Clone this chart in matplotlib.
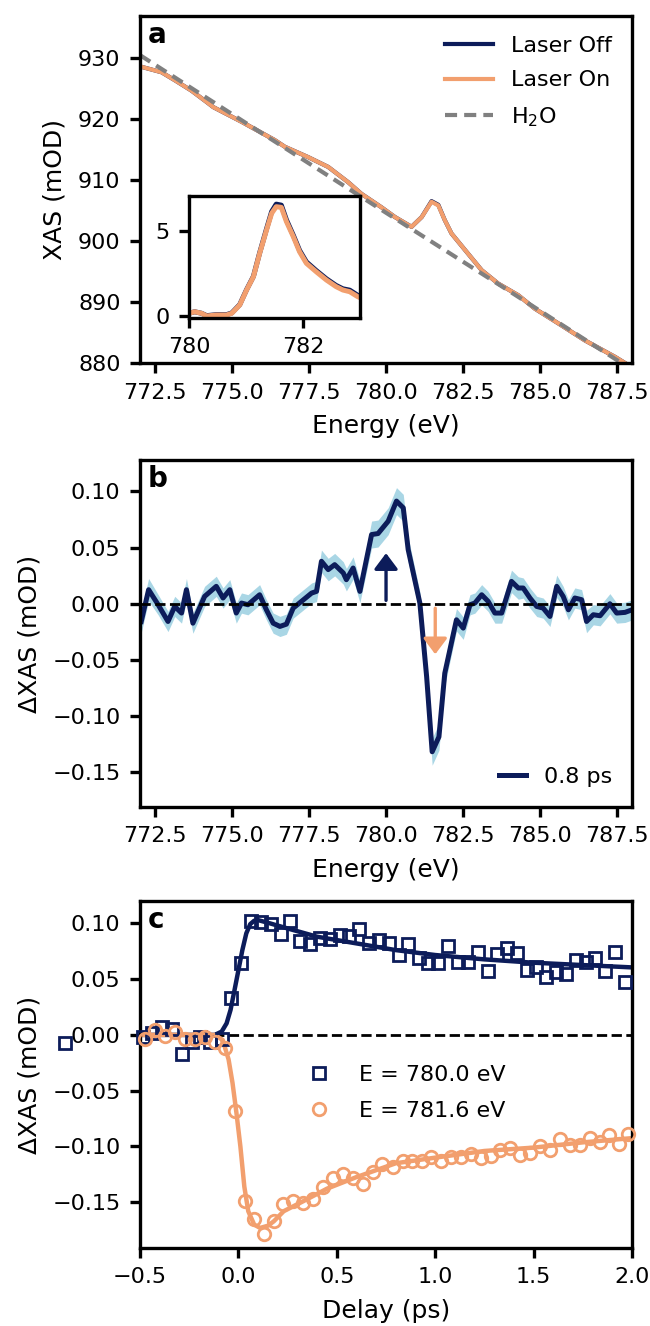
import numpy as np
import matplotlib.pyplot as plt

plt.rcParams['font.size'] = 8
plt.rcParams['axes.labelsize'] = 9
plt.rcParams['axes.linewidth'] = 1.2
plt.rcParams['xtick.major.width'] = 1.2
plt.rcParams['ytick.major.width'] = 1.2

navy = '#0c1c5a'
orange = '#f29f6e'
shade = '#a9d6e5'

# panel a: static XAS
energy_a = [772.04, 772.70, 773.13, 773.67, 774.20, 774.38, 775.30, 776.38, 776.71,
            777.47, 778.12, 778.77, 779.20, 779.85, 780.29, 780.83, 781.16, 781.48,
            781.70, 781.91, 782.13, 782.57, 783.11, 783.65, 784.30, 784.84, 785.60,
            786.47, 787.45, 788.0]
xas_off = [928.5, 927.6, 926.3, 924.6, 922.6, 921.9, 919.5, 916.5, 915.4,
           913.7, 912.1, 909.6, 907.7, 905.5, 903.9, 902.3, 903.9, 906.5,
           905.9, 903.4, 901.2, 898.5, 895.2, 893.0, 891.1, 888.9, 886.5,
           883.7, 881.0, 879.3]
xas_on = [928.5, 927.6, 926.3, 924.6, 922.6, 921.9, 919.5, 916.5, 915.4,
          913.7, 912.1, 909.6, 907.7, 905.5, 903.9, 902.3, 903.9, 906.4,
          905.8, 903.4, 901.2, 898.5, 895.2, 893.0, 891.1, 888.9, 886.5,
          883.7, 881.0, 879.3]
energy_h2o = [772.0, 776.0, 780.0, 784.0, 788.0]
xas_h2o = [930.4, 917.5, 904.6, 891.8, 878.9]

# inset: background subtracted
energy_in = [780.0, 780.10, 780.22, 780.31, 780.48, 780.66, 780.75, 780.89, 781.01,
             781.13, 781.24, 781.36, 781.45, 781.53, 781.62, 781.71, 781.83, 781.94,
             782.06, 782.23, 782.41, 782.58, 782.70, 782.82, 782.96, 783.0]
inset_off = [0.16, 0.25, 0.16, 0.02, 0.08, 0.08, 0.18, 0.67, 1.55,
             2.33, 3.72, 5.12, 6.14, 6.58, 6.52, 5.65, 4.75, 3.86,
             3.18, 2.68, 2.19, 1.80, 1.60, 1.52, 1.22, 1.15]
inset_on = [0.16, 0.25, 0.16, 0.0, 0.06, 0.06, 0.16, 0.65, 1.53,
            2.31, 3.69, 5.06, 6.04, 6.43, 6.39, 5.55, 4.67, 3.78,
            3.10, 2.61, 2.12, 1.73, 1.53, 1.43, 1.14, 1.08]

# panel b: transient at 0.8 ps
energy_b = [772.04, 772.28, 772.59, 772.91, 773.13, 773.35, 773.51, 773.72, 774.10,
            774.48, 774.70, 774.92, 775.13, 775.30, 775.51, 775.89, 776.11, 776.33,
            776.55, 776.76, 776.98, 777.25, 777.58, 777.74, 777.90, 778.12, 778.33,
            778.61, 778.71, 778.93, 779.15, 779.53, 779.74, 780.07, 780.34, 780.56,
            780.72, 781.10, 781.32, 781.50, 781.72, 781.91, 782.29, 782.51, 782.73,
            782.89, 783.11, 783.32, 783.54, 783.76, 784.08, 784.30, 784.46, 784.68,
            784.90, 785.11, 785.33, 785.55, 785.76, 785.93, 786.14, 786.36, 786.52,
            786.74, 786.96, 787.28, 787.50, 787.77, 788.0]
dxas_b = [-0.0158, 0.0125, -0.0009, -0.0158, -0.0024, -0.0083, 0.0125, -0.0173, 0.0065,
          0.0155, 0.0051, 0.0125, -0.0083, 0.0006, -0.0009, 0.0080, -0.0054, -0.0173,
          -0.0202, -0.0182, -0.0039, 0.0021, 0.0095, 0.0110, 0.0378, 0.0304, 0.0348,
          0.0274, 0.0214, 0.0318, 0.0110, 0.0616, 0.0625, 0.0735, 0.0914, 0.0854,
          0.0482, 0.0006, -0.0649, -0.1318, -0.1185, -0.0619, -0.0143, -0.0217, -0.0009,
          0.0006, 0.0080, 0.0021, -0.0083, -0.0083, 0.0199, 0.0140, 0.0140, 0.0051,
          -0.0024, -0.0039, -0.0113, 0.0155, 0.0065, -0.0054, 0.0051, 0.0036, -0.0158,
          -0.0098, -0.0107, 0.0000, -0.0083, -0.0077, -0.0054]
err_b = [0.010, 0.010, 0.009, 0.009, 0.009, 0.009, 0.010, 0.009, 0.009,
         0.009, 0.009, 0.009, 0.009, 0.009, 0.009, 0.009, 0.009, 0.009,
         0.009, 0.009, 0.009, 0.009, 0.009, 0.009, 0.010, 0.010, 0.010,
         0.010, 0.010, 0.010, 0.010, 0.012, 0.012, 0.012, 0.012, 0.012,
         0.011, 0.010, 0.010, 0.012, 0.012, 0.011, 0.010, 0.010, 0.009,
         0.009, 0.009, 0.009, 0.009, 0.009, 0.010, 0.010, 0.009, 0.009,
         0.009, 0.009, 0.009, 0.010, 0.009, 0.009, 0.009, 0.009, 0.010,
         0.009, 0.009, 0.009, 0.009, 0.009, 0.009]

# panel c: kinetics
delay_sq = [-0.881, -0.483, -0.441, -0.390, -0.339, -0.288, -0.237, -0.195, -0.144, -0.085,
            -0.039, 0.012, 0.064, 0.115, 0.164, 0.215, 0.263, 0.314, 0.364, 0.415,
            0.463, 0.514, 0.564, 0.614, 0.664, 0.715, 0.766, 0.814, 0.864, 0.915,
            0.963, 1.014, 1.063, 1.115, 1.166, 1.215, 1.266, 1.314, 1.364, 1.415,
            1.466, 1.514, 1.564, 1.615, 1.666, 1.715, 1.766, 1.814, 1.864, 1.915, 1.966]
dxas_sq = [-0.0072, -0.0015, 0.0015, 0.0075, 0.0050, -0.0173, -0.0060, -0.0015, -0.0060, -0.0040,
           0.0334, 0.0641, 0.1023, 0.1014, 0.0990, 0.0904, 0.1023, 0.0844, 0.0814, 0.0871,
           0.0856, 0.0895, 0.0886, 0.0945, 0.0826, 0.0850, 0.0820, 0.0716, 0.0814, 0.0692,
           0.0647, 0.0647, 0.0796, 0.0650, 0.0656, 0.0746, 0.0573, 0.0725, 0.0775, 0.0737,
           0.0582, 0.0611, 0.0516, 0.0567, 0.0546, 0.0671, 0.0650, 0.0686, 0.0576, 0.0746, 0.0477]
delay_ci = [-0.475, -0.424, -0.373, -0.322, -0.271, -0.220, -0.169, -0.119, -0.068, -0.017,
            0.031, 0.081, 0.130, 0.181, 0.229, 0.279, 0.330, 0.381, 0.428, 0.479,
            0.530, 0.581, 0.632, 0.683, 0.732, 0.783, 0.834, 0.881, 0.932, 0.980,
            1.031, 1.081, 1.131, 1.181, 1.232, 1.283, 1.331, 1.381, 1.432, 1.483,
            1.531, 1.581, 1.632, 1.683, 1.734, 1.785, 1.836, 1.883, 1.934, 1.978]
dxas_ci = [-0.0040, 0.0040, -0.0010, 0.0024, -0.0040, -0.0040, -0.0015, -0.0060, -0.0120, -0.0686,
           -0.1485, -0.1650, -0.1780, -0.1664, -0.1515, -0.1490, -0.1506, -0.1467, -0.1366, -0.1282,
           -0.1246, -0.1282, -0.1336, -0.1229, -0.1157, -0.1187, -0.1133, -0.1133, -0.1133, -0.1098,
           -0.1133, -0.1095, -0.1095, -0.1065, -0.1104, -0.1083, -0.1035, -0.1014, -0.1074, -0.1059,
           -0.0999, -0.1035, -0.0931, -0.0984, -0.0984, -0.0925, -0.0963, -0.0895, -0.0975, -0.0889]
fit_t_sq = [-0.5, -0.12, -0.085, -0.06, -0.04, -0.02, 0.0, 0.02, 0.04, 0.06, 0.08, 0.10,
            0.15, 0.25, 0.40, 0.60, 0.80, 1.00, 1.25, 1.50, 1.75, 2.0]
fit_sq = [0.0, 0.0, 0.003, 0.0104, 0.0224, 0.040, 0.058, 0.076, 0.091, 0.0993, 0.1023, 0.1029,
          0.1005, 0.0954, 0.0880, 0.0820, 0.0760, 0.0716, 0.0677, 0.0647, 0.0626, 0.0605]
fit_t_ci = [-0.5, -0.12, -0.08, -0.05, -0.03, -0.01, 0.01, 0.03, 0.05, 0.08, 0.11,
            0.15, 0.18, 0.23, 0.33, 0.45, 0.60, 0.80, 1.00, 1.25, 1.50, 1.75, 2.0]
fit_ci = [0.0, 0.0, -0.0045, -0.022, -0.043, -0.070, -0.100, -0.136, -0.158, -0.170, -0.173,
          -0.171, -0.167, -0.158, -0.149, -0.1378, -0.1274, -0.115, -0.110, -0.104, -0.101, -0.0963, -0.0925]

fig = plt.figure(figsize=(3.25, 6.63), dpi=200)
L, W, H = 0.2154, 0.757, 0.2617
ax_a = fig.add_axes([L, 0.7262, W, H])
ax_b = fig.add_axes([L, 0.3914, W, H])
ax_c = fig.add_axes([L, 0.0588, W, H])

# ---- a
ax_a.plot(energy_a, xas_off, color=navy, lw=1.5, label='Laser Off')
ax_a.plot(energy_a, xas_on, color=orange, lw=1.5, label='Laser On')
ax_a.plot(energy_h2o, xas_h2o, color='gray', lw=1.5, ls=(0, (2.9, 1.7)), label='H$_2$O')
ax_a.set_xlim(772, 788)
ax_a.set_ylim(880, 936.8)
ax_a.set_xticks([772.5, 775, 777.5, 780, 782.5, 785, 787.5])
ax_a.set_yticks([880, 890, 900, 910, 920, 930])
ax_a.set_xlabel('Energy (eV)')
ax_a.set_ylabel('XAS (mOD)')
ax_a.legend(loc='upper right', frameon=False, handlelength=2.2, labelspacing=0.65)
ax_a.text(0.015, 0.985, 'a', transform=ax_a.transAxes, fontweight='bold', va='top', fontsize=10)

ins = fig.add_axes([0.2908, 0.7604, 0.263, 0.0918])
ins.plot(energy_in, inset_off, color=navy, lw=1.8)
ins.plot(energy_in, inset_on, color=orange, lw=1.8)
ins.set_xlim(780, 783)
ins.set_ylim(-0.1, 7.06)
ins.set_xticks([780, 782])
ins.set_yticks([0, 5])

# ---- b
ax_b.fill_between(energy_b, np.array(dxas_b) - np.array(err_b), np.array(dxas_b) + np.array(err_b),
                  color=shade, lw=0)
ax_b.plot(energy_b, dxas_b, color=navy, lw=1.8, label='0.8 ps')
ax_b.axhline(0, color='black', lw=1.0, ls='--')
ax_b.annotate('', xy=(780.0, 0.045), xytext=(780.0, 0.003),
              arrowprops=dict(arrowstyle='-|>,head_length=0.4,head_width=0.3', color=navy,
                              lw=1.2, mutation_scale=12, shrinkA=0, shrinkB=0))
ax_b.annotate('', xy=(781.6, -0.045), xytext=(781.6, -0.004),
              arrowprops=dict(arrowstyle='-|>,head_length=0.4,head_width=0.3', color=orange,
                              lw=1.2, mutation_scale=12, shrinkA=0, shrinkB=0))
ax_b.set_xlim(772, 788)
ax_b.set_ylim(-0.181, 0.128)
ax_b.set_xticks([772.5, 775, 777.5, 780, 782.5, 785, 787.5])
ax_b.set_yticks([-0.15, -0.10, -0.05, 0.0, 0.05, 0.10])
ax_b.set_xlabel('Energy (eV)')
ax_b.set_ylabel('ΔXAS (mOD)')
ax_b.legend(loc='lower right', frameon=False, handlelength=1.2)
ax_b.text(0.015, 0.985, 'b', transform=ax_b.transAxes, fontweight='bold', va='top', fontsize=10)

# ---- c
ax_c.axhline(0, color='black', lw=1.0, ls='--', zorder=1)
ax_c.plot(delay_sq, dxas_sq, ls='none', marker='s', ms=4, mfc='none', mec=navy, mew=1.0,
          clip_on=False, label='E = 780.0 eV', zorder=3)
ax_c.plot(delay_ci, dxas_ci, ls='none', marker='o', ms=4.5, mfc='none', mec=orange, mew=1.0,
          clip_on=False, label='E = 781.6 eV', zorder=3)
ax_c.plot(fit_t_sq, fit_sq, color=navy, lw=1.6, zorder=2)
ax_c.plot(fit_t_ci, fit_ci, color=orange, lw=1.6, zorder=2)
ax_c.set_xlim(-0.5, 2.0)
ax_c.set_ylim(-0.191, 0.120)
ax_c.set_yticks([-0.15, -0.10, -0.05, 0.0, 0.05, 0.10])
ax_c.set_xlabel('Delay (ps)')
ax_c.set_ylabel('ΔXAS (mOD)')
ax_c.legend(loc='upper left', bbox_to_anchor=(0.278, 0.585), frameon=False, labelspacing=0.73)
ax_c.text(0.015, 0.985, 'c', transform=ax_c.transAxes, fontweight='bold', va='top', fontsize=10)

fig.savefig('out.png', dpi=200)
